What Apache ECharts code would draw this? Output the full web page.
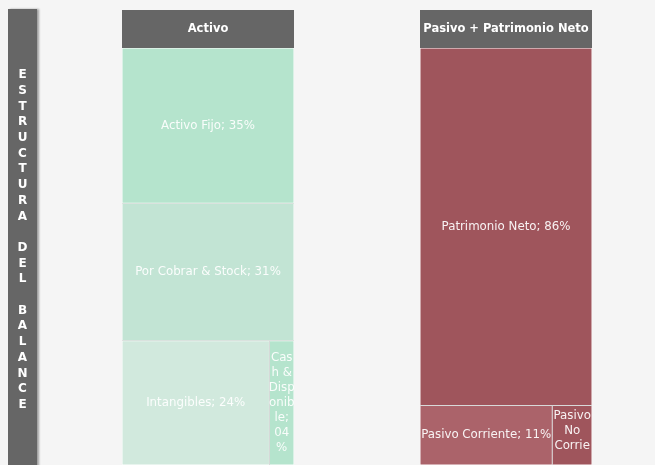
<!DOCTYPE html>
<html>
<head>
<meta charset="utf-8">
<script src="https://cdn.jsdelivr.net/npm/echarts@6/dist/echarts.min.js"></script>
<style>
  html, body { margin: 0; padding: 0; background: #f5f5f5; }
  #main { width: 655px; height: 465px; }
</style>
</head>
<body>
<div id="main"></div>
<script>
// datos de la estructura del balance
var activoNames = ['Activo Fijo', 'Por Cobrar & Stock', 'Intangibles', 'Cash & Disponible'];
var activoValues = [35, 31, 24, 4];
var activoColors = ['#b5e4cd', '#c2e4d4', '#d1e9dd', '#b5e4cd'];
// nombres cortados como en las celdas estrechas
var activoWrapped = [null, null, null, 'Cas\nh &\nDisp\nonib\nle;'];

var pasivoNames = ['Patrimonio Neto', 'Pasivo Corriente', 'Pasivo No Corriente'];
var pasivoValues = [86, 11, 3.3];
var pasivoColors = ['#9f555c', '#ab636a', '#9f555c'];
var pasivoWrapped = [null, null, 'Pasivo\nNo\nCorrie\nnte;'];

var sideTitle = 'ESTRUCTURA DEL BALANCE';

function pad(v) {
    v = Math.round(v);
    return v < 10 ? '0' + v : '' + v;
}

function wrappedFormatter(txt) {
    return function (p) {
        return txt + '\n' + pad(p.value) + '\n%';
    };
}

function buildChildren(names, values, colors, wrapped, shiftUp) {
    var res = [];
    for (var i = 0; i < names.length; i++) {
        var item = {
            name: names[i],
            value: values[i],
            itemStyle: { color: colors[i] }
        };
        if (wrapped[i]) {
            item.label = {
                overflow: 'none',
                formatter: wrappedFormatter(wrapped[i])
            };
            if (shiftUp) {
                item.label.offset = [0, -shiftUp];
            }
        }
        res.push(item);
    }
    return res;
}

function treemapSerie(title, names, values, colors, wrapped, shiftUp, left) {
    return {
        type: 'treemap',
        left: left,
        top: 10,
        width: 172,
        bottom: 0,
        roam: false,
        nodeClick: false,
        breadcrumb: { show: false },
        squareRatio: 1,
        levels: [
            { itemStyle: { borderWidth: 0, gapWidth: 0, borderColor: '#666666' } },
            {
                itemStyle: { borderWidth: 0, gapWidth: 0, borderColor: '#666666' },
                upperLabel: {
                    show: true,
                    height: 38,
                    position: 'inside',
                    overflow: 'none',
                    padding: [2, 0, 0, 0],
                    color: '#ffffff',
                    fontFamily: 'DejaVu Sans',
                    fontWeight: 'bold',
                    fontSize: 11.5
                }
            },
            {
                itemStyle: { borderWidth: 0.5, borderColor: '#ffffff', gapWidth: 0 },
                label: {
                    show: true,
                    position: 'inside',
                    padding: 0,
                    distance: 0,
                    color: 'rgba(255,255,255,0.92)',
                    fontFamily: 'DejaVu Sans',
                    fontSize: 11.8,
                    lineHeight: 15,
                    overflow: 'break',
                    align: 'center',
                    verticalAlign: 'middle',
                    formatter: function (p) {
                        return p.name + '; ' + pad(p.value) + '%';
                    }
                }
            }
        ],
        data: [{
            name: title,
            children: buildChildren(names, values, colors, wrapped, shiftUp)
        }]
    };
}

var chart = echarts.init(document.getElementById('main'));
var option = {
    backgroundColor: '#f5f5f5',
    animation: false,
    graphic: [{
        type: 'rect',
        shape: { x: 8, y: 9, width: 29, height: 470 },
        style: {
            fill: '#666666',
            shadowColor: 'rgba(0,0,0,0.35)',
            shadowOffsetX: 2,
            shadowBlur: 2
        }
    }, {
        type: 'text',
        x: 22.5,
        y: 240,
        style: {
            text: sideTitle.split('').join('\n'),
            fill: '#ffffff',
            font: 'bold 12px "DejaVu Sans"',
            lineHeight: 15.7,
            align: 'center',
            verticalAlign: 'middle'
        }
    }],
    series: [
        treemapSerie('Activo', activoNames, activoValues, activoColors, activoWrapped, 0, 122),
        treemapSerie('Pasivo + Patrimonio Neto', pasivoNames, pasivoValues, pasivoColors, pasivoWrapped, 4, 420)
    ]
};
chart.setOption(option);
</script>
</body>
</html>
